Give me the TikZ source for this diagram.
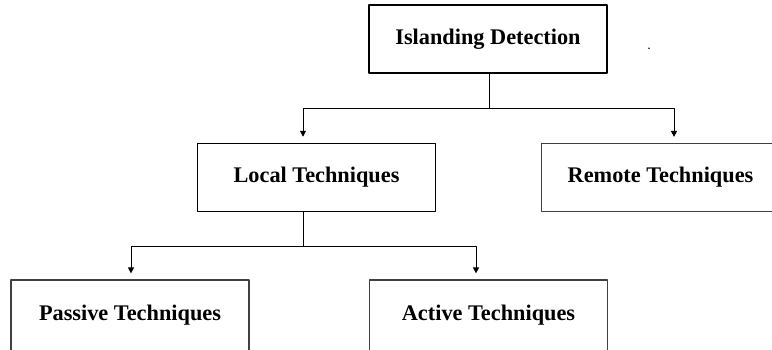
\documentclass[tikz,border=0pt]{standalone}
\usepackage{fontspec}
\setmainfont{Liberation Serif}
\usetikzlibrary{arrows.meta}
\tikzset{>={Triangle[length=6pt,width=6pt]}}
\tikzset{box/.style={draw=black!75, line width=1.2pt, minimum width=238pt, minimum height=68pt, inner sep=0pt, font=\bfseries\fontsize{22.3}{26}\selectfont}}

\begin{document}
\begin{tikzpicture}[x=1pt, y=1pt, line cap=round, line join=round]

\clip (0,0) rectangle (772,349);

\node[box, draw=black, line width=1.8pt] (detect) at (488,310) {Islanding Detection};
\node[box, draw=black, line width=1.5pt] (local) at (316.5,171.5) {Local Techniques};
\node[box] (remote) at (660.5,171.5) {Remote Techniques};
\node[box, minimum height=71pt] (passive) at (130,33.5) {Passive Techniques};
\node[box, minimum height=71pt] (active) at (488.5,33.5) {Active Techniques};

\node[font=\bfseries] (dot) at (649,300) {.};

% first level
\coordinate (fork1) at (489,241);
\draw[line width=0.9pt] (detect.south -| fork1) -- (fork1);
\draw[->, line width=0.9pt, shorten >=6pt] (fork1) -| ([xshift=-13.5pt]local.north);
\draw[->, line width=0.9pt, shorten >=6pt] (fork1) -| ([xshift=13.5pt]remote.north);

% second level
\coordinate (fork2) at (303,103);
\draw[line width=0.9pt] (local.south -| fork2) -- (fork2);
\draw[->, line width=0.9pt, shorten >=6pt] (fork2) -| ([xshift=1pt]passive.north);
\draw[->, line width=0.9pt, shorten >=6pt] (fork2) -| ([xshift=-12.5pt]active.north);

\end{tikzpicture}
\end{document}
